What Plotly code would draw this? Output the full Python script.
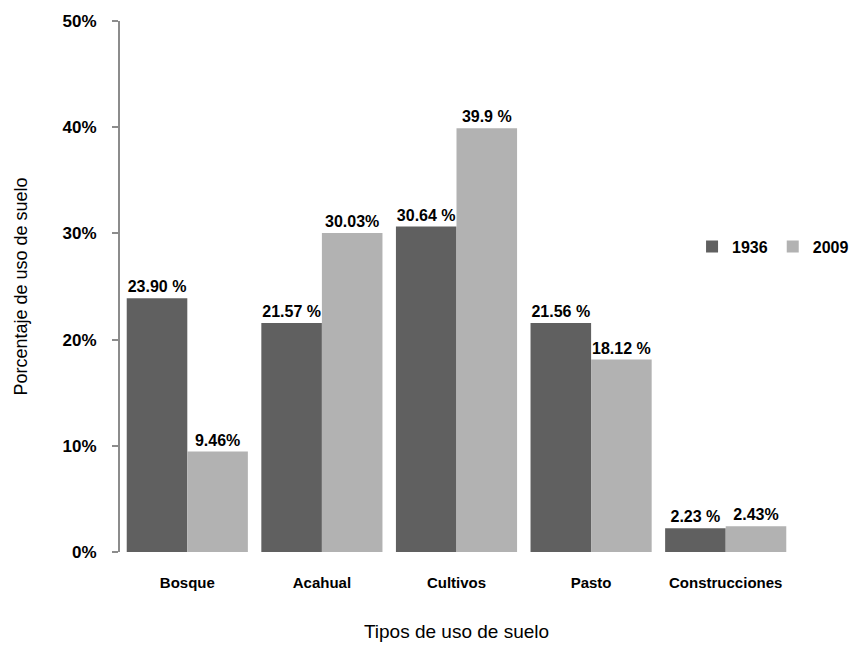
import plotly.graph_objects as go

categories = ["Bosque", "Acahual", "Cultivos", "Pasto", "Construcciones"]
years = ["1936", "2009"]
values_1936 = [23.90, 21.57, 30.64, 21.56, 2.23]
values_2009 = [9.46, 30.03, 39.9, 18.12, 2.43]
labels_1936 = ["23.90 %", "21.57 %", "30.64 %", "21.56 %", "2.23 %"]
labels_2009 = ["9.46%", "30.03%", "39.9 %", "18.12 %", "2.43%"]
y_ticks = [0, 10, 20, 30, 40, 50]
y_tick_text = ["0%", "10%", "20%", "30%", "40%", "50%"]

FONT = "Liberation Sans, Arial, sans-serif"

fig = go.Figure()
fig.add_trace(go.Bar(
    x=categories, y=values_1936, name=years[0],
    marker=dict(color="#606060", line=dict(width=0)),
    text=labels_1936, textposition="outside", cliponaxis=False,
    textfont=dict(family=FONT, size=16, color="#000000", weight="bold"),
))
fig.add_trace(go.Bar(
    x=categories, y=values_2009, name=years[1],
    marker=dict(color="#b2b2b2", line=dict(width=0)),
    text=labels_2009, textposition="outside", cliponaxis=False,
    textfont=dict(family=FONT, size=16, color="#000000", weight="bold"),
))

fig.update_layout(
    width=866, height=650,
    margin=dict(l=120, r=62, t=19, b=98),
    paper_bgcolor="white", plot_bgcolor="white",
    barmode="group", bargap=0.1, bargroupgap=0,
    font=dict(family=FONT, size=15, color="#000000"),
    showlegend=True,
    legend=dict(
        orientation="h", x=0.85, y=0.575, xanchor="left", yanchor="middle",
        font=dict(family=FONT, size=16, weight="bold"), itemwidth=30,
        bgcolor="rgba(0,0,0,0)", traceorder="normal",
    ),
    xaxis=dict(
        showline=False, showgrid=False, ticks="",
        ticklabelstandoff=20,
        tickfont=dict(family=FONT, size=15, weight="bold"),
        title=dict(text="Tipos de uso de suelo", font=dict(family=FONT, size=19), standoff=34),
    ),
    yaxis=dict(
        range=[0, 50], tickvals=y_ticks, ticktext=y_tick_text,
        showline=True, linecolor="#8c8c8c", linewidth=2,
        ticks="outside", ticklen=6, tickcolor="#8c8c8c", tickwidth=2,
        ticklabelstandoff=12,
        showgrid=False, zeroline=False,
        tickfont=dict(family=FONT, size=17, weight="bold"),
        title=dict(text="Porcentaje de uso de suelo", font=dict(family=FONT, size=18), standoff=30),
    ),
)

fig.write_html("out.html")
